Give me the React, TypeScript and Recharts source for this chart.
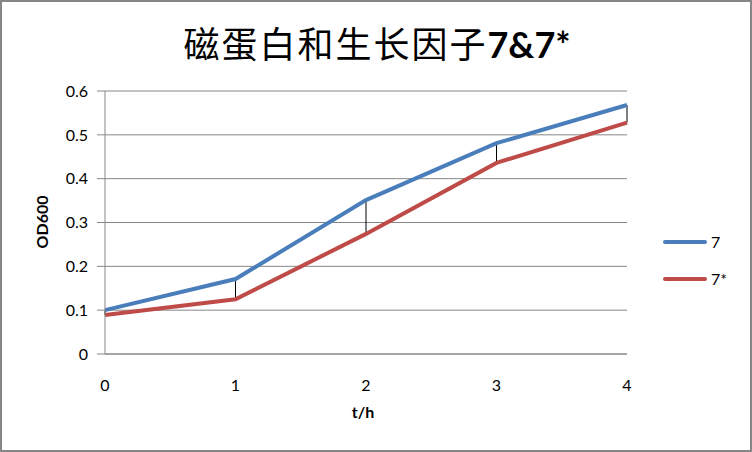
import React from 'react';
import { LineChart, Line, XAxis, YAxis, CartesianGrid, ErrorBar } from 'recharts';

const hours = [0, 1, 2, 3, 4];
const series7 = [0.1, 0.171, 0.351, 0.481, 0.568];
const series7Star = [0.089, 0.125, 0.274, 0.436, 0.528];
const yTicks = [0, 0.1, 0.2, 0.3, 0.4, 0.5, 0.6];

const BLUE = '#4A7EBB';
const RED = '#BE4B48';
const GRID = '#868686';
const FONT = 'Lato, "Open Sans", sans-serif';

const data = hours.map((h, i) => ({
  t: h,
  s7: series7[i],
  s7s: series7Star[i],
  // high-low line: from the blue value down to the red one
  hl: [series7[i] - series7Star[i], 0],
}));

const legendItems = [
  { name: '7', color: BLUE },
  { name: '7*', color: RED },
];

const LegendBox = () => (
  <div style={{ fontFamily: FONT, fontSize: 16, color: '#000' }}>
    {legendItems.map((it) => (
      <div key={it.name} style={{ display: 'flex', alignItems: 'center', height: 37 }}>
        <div style={{ width: 44, height: 4, background: it.color, borderRadius: 2, marginRight: 4 }} />
        <span>{it.name}</span>
      </div>
    ))}
  </div>
);

const App: React.FC = () => {
  return (
    <div
      style={{
        position: 'absolute',
        left: 0,
        top: 0,
        width: 752,
        height: 452,
        border: `2px solid ${GRID}`,
        boxSizing: 'border-box',
        background: '#fff',
        overflow: 'hidden',
      }}
    >
      <div
        style={{
          position: 'absolute',
          left: 0,
          width: 750,
          top: 16,
          textAlign: 'center',
          fontSize: 36,
          color: '#000',
          fontFamily: '"Noto Sans CJK SC", sans-serif',
          lineHeight: '48px',
          whiteSpace: 'nowrap',
        }}
      >
        <span style={{ letterSpacing: 2 }}>磁蛋白和生长因子</span>
        <b style={{ fontFamily: FONT }}>7&amp;7*</b>
      </div>
      <div
        style={{
          position: 'absolute',
          left: 363 - 2,
          top: 402 - 2,
          transform: 'translateX(-50%)',
          fontFamily: FONT,
          fontWeight: 'bold',
          fontSize: 16,
        }}
      >
        t/h
      </div>
      <div
        style={{
          position: 'absolute',
          left: 41 - 2,
          top: 222 - 2,
          transform: 'translate(-50%, -50%) rotate(-90deg)',
          fontFamily: FONT,
          fontWeight: 'bold',
          fontSize: 16,
        }}
      >
        OD600
      </div>
      <div style={{ position: 'absolute', left: 663 - 2, top: 223 - 2 }}>
        <LegendBox />
      </div>
      <div style={{ position: 'absolute', left: -2, top: -2 }}>
        <LineChart
          width={752}
          height={452}
          data={data}
          margin={{ top: 91, right: 125, bottom: 68, left: 50 }}
        >
          <CartesianGrid vertical={false} stroke={GRID} strokeWidth={1} />
          <XAxis
            dataKey="t"
            type="number"
            domain={[0, 4]}
            ticks={hours}
            height={30}
            axisLine={{ stroke: GRID }}
            tickLine={false}
            tickMargin={20}
            tick={{ fill: '#000', fontSize: 16, fontFamily: FONT }}
          />
          <YAxis
            domain={[0, 0.6]}
            ticks={yTicks}
            width={55}
            axisLine={{ stroke: GRID }}
            tickLine={{ stroke: GRID }}
            tickSize={8}
            tickMargin={9}
            tickFormatter={(v: number) => String(Math.round(v * 10) / 10)}
            tick={{ fill: '#000', fontSize: 16, fontFamily: FONT }}
          />
          <Line
            dataKey="s7"
            name="7"
            stroke={BLUE}
            strokeWidth={4}
            dot={false}
            isAnimationActive={false}
          >
            <ErrorBar dataKey="hl" width={0} stroke="#000" strokeWidth={1} direction="y" />
          </Line>
          <Line
            dataKey="s7s"
            name="7*"
            stroke={RED}
            strokeWidth={4}
            dot={false}
            isAnimationActive={false}
          />
        </LineChart>
      </div>
    </div>
  );
};

export default App;
